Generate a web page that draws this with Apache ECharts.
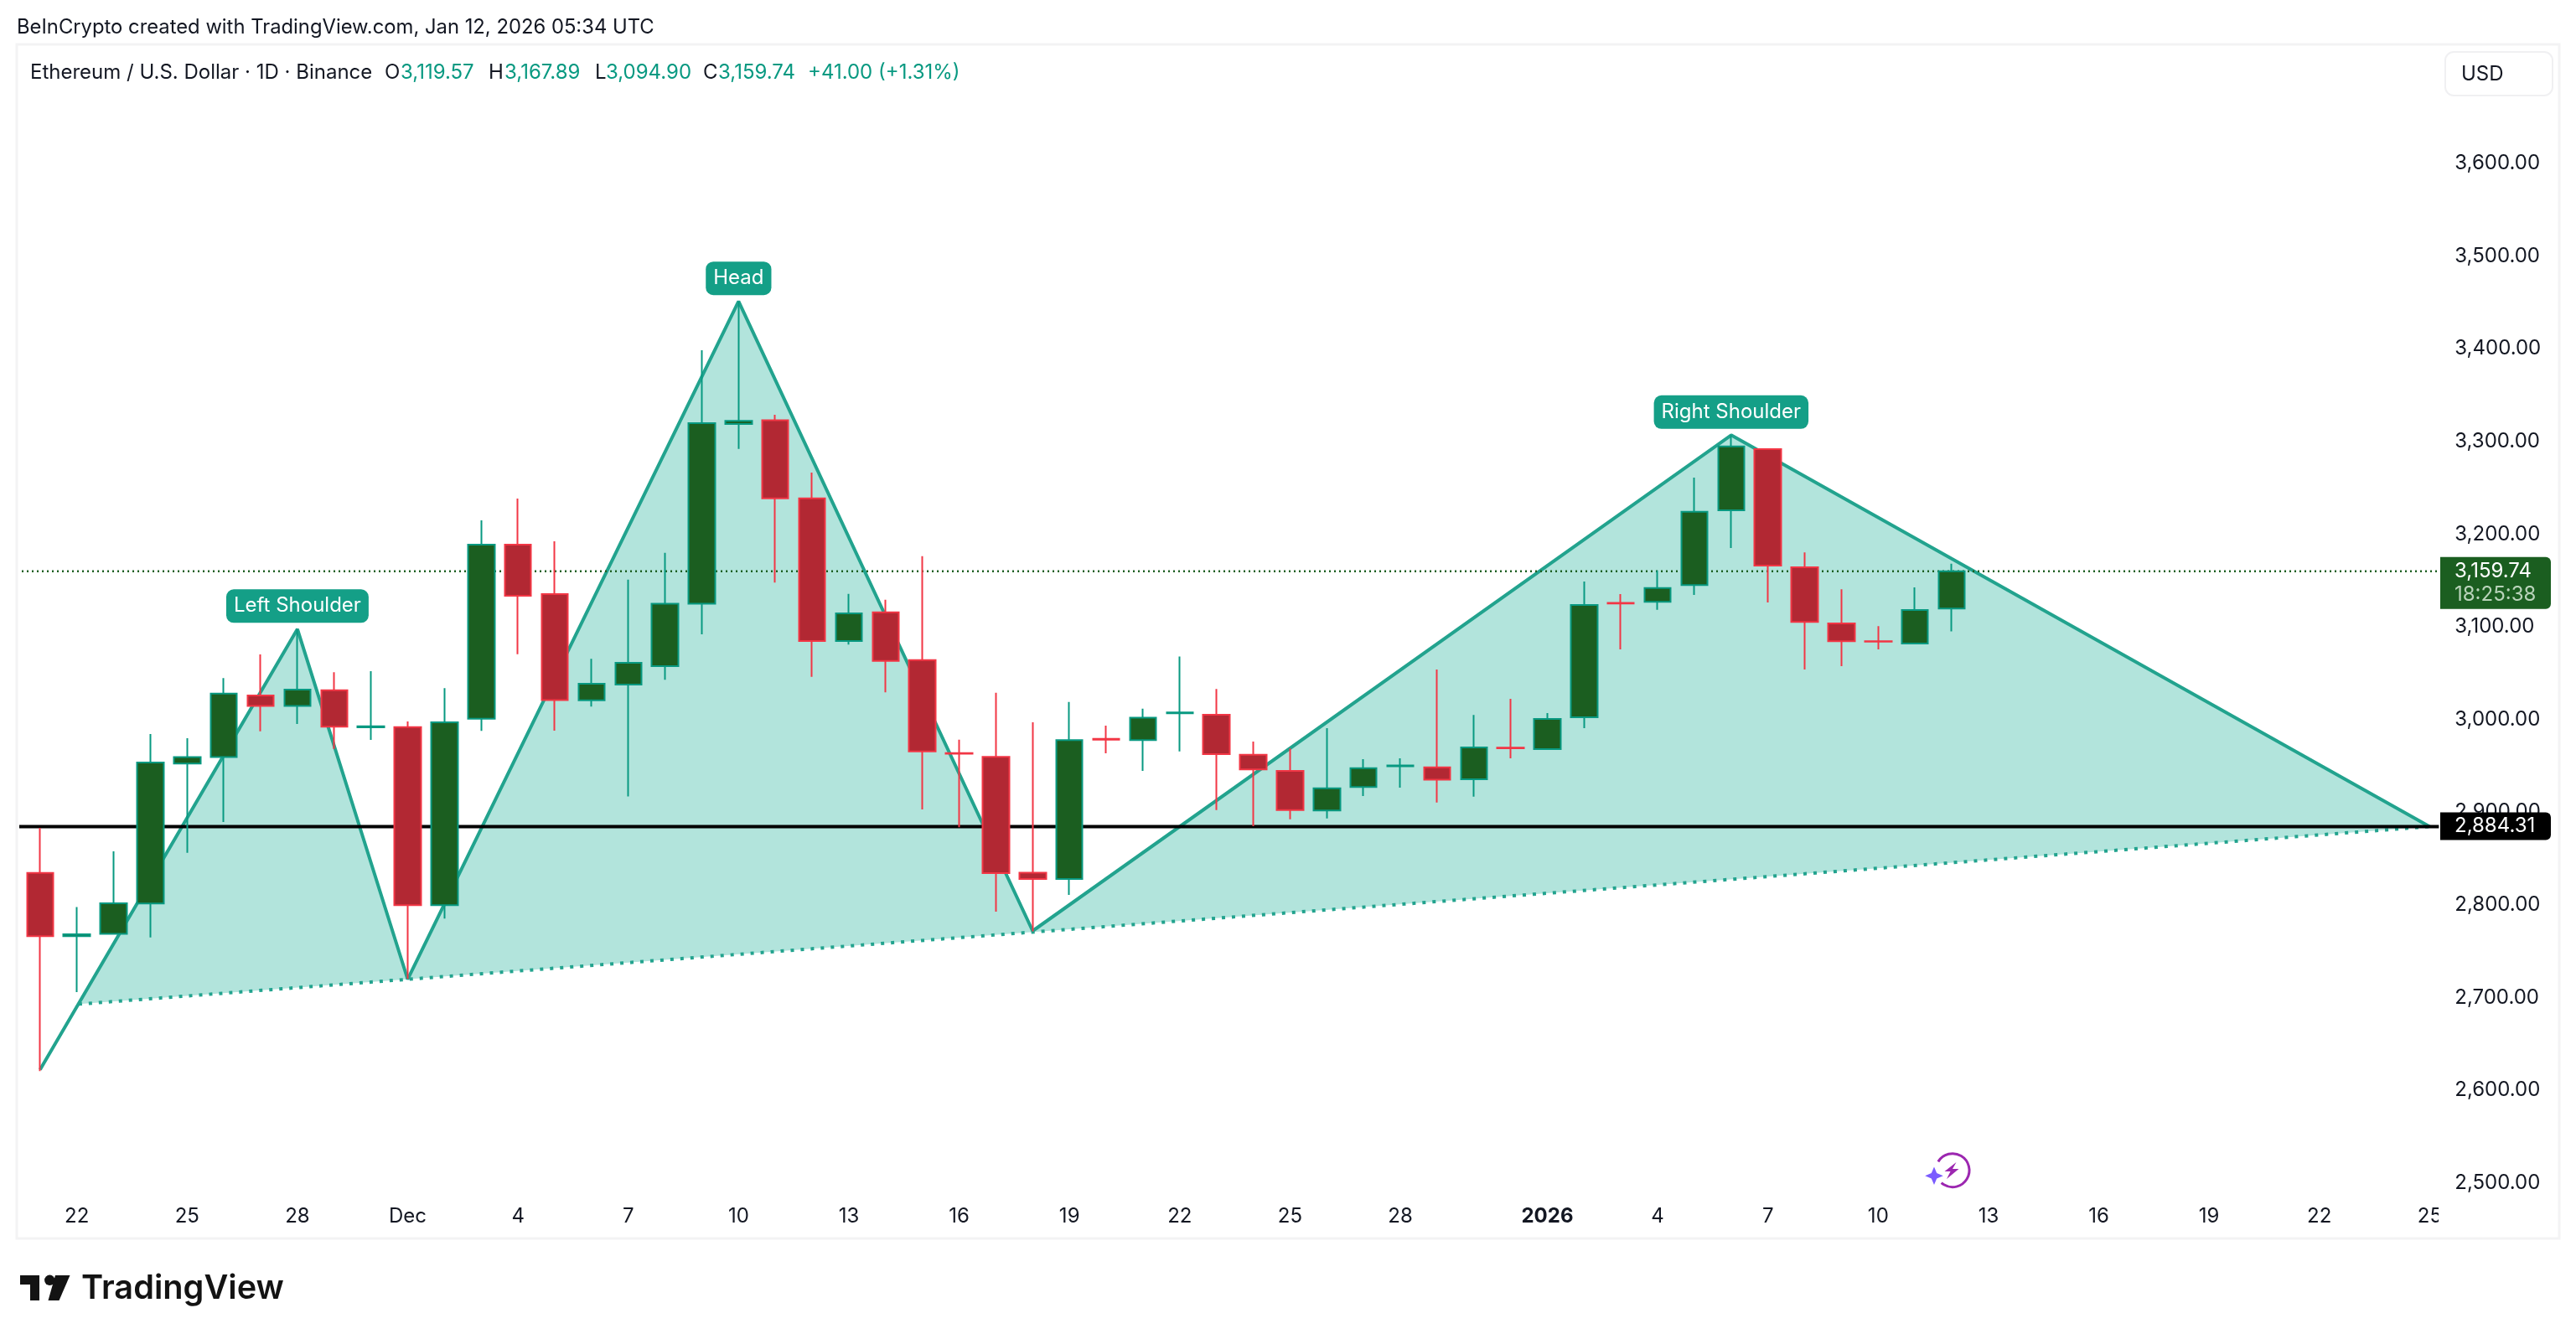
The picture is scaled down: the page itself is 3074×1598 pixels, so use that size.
<!DOCTYPE html>
<html><head><meta charset="utf-8">
<style>html,body{margin:0;padding:0;background:#fff}#c{width:3074px;height:1598px}</style>
<script src="https://cdn.jsdelivr.net/npm/echarts@6/dist/echarts.min.js"></script>
</head><body><div id="c"></div>
<script>
const categories=["Nov 21","Nov 22","Nov 23","Nov 24","Nov 25","Nov 26","Nov 27","Nov 28","Nov 29","Nov 30","Dec 1","Dec 2","Dec 3","Dec 4","Dec 5","Dec 6","Dec 7","Dec 8","Dec 9","Dec 10","Dec 11","Dec 12","Dec 13","Dec 14","Dec 15","Dec 16","Dec 17","Dec 18","Dec 19","Dec 20","Dec 21","Dec 22","Dec 23","Dec 24","Dec 25","Dec 26","Dec 27","Dec 28","Dec 29","Dec 30","Dec 31","Jan 1","Jan 2","Jan 3","Jan 4","Jan 5","Jan 6","Jan 7","Jan 8","Jan 9","Jan 10","Jan 11","Jan 12","Jan 13","Jan 14","Jan 15","Jan 16","Jan 17","Jan 18","Jan 19","Jan 20","Jan 21","Jan 22","Jan 23","Jan 24","Jan 25"];
const tickIndex=[1,4,7,10,13,16,19,22,25,28,31,34,37,41,44,47,50,53,56,59,62,65];
const tickText=["22","25","28","Dec","4","7","10","13","16","19","22","25","28","2026","4","7","10","13","16","19","22","25"];
const opens=[2834.2,2766,2768.6,2801.2,2952.3,2959.4,3025.8,3014.5,3031.4,2991.5,2991.7,2799.4,3000.6,3188.5,3135.2,3020.5,3037.5,3057.5,3124.7,3318.8,3322.7,3238.4,3084.5,3115.4,3063.9,2963.6,2959.5,2834.5,2827.7,2979,2977.7,3006.6,3005,2961.9,2944.4,2901.6,2926.9,2949.4,2948.3,2935.3,2969.4,2967.9,3002.2,3125.6,3126.8,3144.9,3225.6,3291.6,3164.1,3103.6,3084.3,3081.9,3119.57];
const closes=[2766,2768,2801.6,2953.5,2959.4,3027.7,3014.5,3032.2,2992.1,2992.5,2799.4,2996.9,3188.5,3133.4,3020.9,3038.5,3061,3124.7,3319.7,3322.1,3238.4,3084.5,3114.4,3063,2965.4,2963,2834,2827.7,2977.7,2978,3001.7,3007.4,2962.5,2945.9,2902.2,2925.7,2947.4,2950.2,2935,2969.7,2968.8,3000.4,3123.4,3124.9,3141.8,3224.1,3294.6,3166,3105.1,3084.3,3083.8,3118,3159.74];
const lows=[2620.5,2705.6,2767.8,2764.8,2856,2889.3,2987.2,2995.1,2968.1,2977.8,2719.9,2785.1,2987.6,3070.4,2987.9,3013.9,2916.9,3042.8,3091.8,3291.8,3147.7,3045.8,3080.6,3029.1,2902.7,2883.5,2792.4,2771.3,2810.5,2963.4,2944.3,2965.5,2902.2,2884.7,2892.2,2893.1,2917.3,2926.3,2910.3,2916.6,2958,2967.9,2990.5,3075.5,3118.3,3134.3,3185,3126.2,3053.8,3057.4,3075.5,3081.9,3094.9];
const highs=[2883,2797.5,2857.5,2984.2,2979.7,3044.5,3070,3097.4,3050.9,3052,2997.7,3033.7,3214.7,3238.3,3192.1,3065.4,3150.7,3179.6,3398.2,3451.1,3328.6,3266.3,3135.5,3129.1,3176.1,2978.1,3028.6,2996.8,3018.8,2993.3,3011.5,3067.9,3032.7,2976,2968.5,2990.5,2957,2958,3053.8,3004.7,3022.1,3006.8,3148.7,3135.2,3160.8,3260.9,3306.7,3292.5,3180.1,3140.3,3100.6,3142.4,3167.89];
const patternX=[0,7,10,19,27,46,65];
const patternV=[2622,3097.4,2719.5,3451,2771.7,3306.7,2884.31];
const baseX=[1.05,65];
const baseV=[2692.7,2884.31];
const patternNames=["Left Shoulder","Head","Right Shoulder"];
const patternNameX=[7,19,46];
const patternNameV=[3097.4,3451,3306.7];
const lastPrice=3159.74, lastPriceText="3,159.74", countdown="18:25:38";
const levelPrice=2884.31, levelText="2,884.31";
const lineSpanX=[-0.634,65.25];

const F='Inter, sans-serif', TXT='#131722', TEAL='#22a38e';
const zip2=(a,b)=>a.map((x,i)=>[x,b[i]]);
const tx=(x,y,t,fill,font,extra)=>({type:'text',z:50,style:Object.assign({x,y,text:t,fill:fill||TXT,font:font||('24px '+F),textVerticalAlign:'middle',verticalAlign:'middle'},extra||{})});
const UP='#089981';
const graphics=[
 {type:'rect',z:1,silent:true,shape:{x:20,y:53,width:3034,height:1425},style:{fill:'none',stroke:'#f3f3f4',lineWidth:3}},
 {type:'rect',z:40,shape:{x:2910,y:1430,width:142,height:46},style:{fill:'#fff'}},
 {type:'rect',z:41,shape:{x:2918,y:62,width:128,height:52,r:10},style:{fill:'#fff',stroke:'#f0f0f2',lineWidth:2}},
 tx(2937,88.5,'USD'),
 tx(20,32.5,'BeInCrypto created with TradingView.com, Jan 12, 2026 05:34 UTC',TXT,'23.8px '+F),
 tx(36,87,'Ethereum / U.S. Dollar · 1D · Binance'),
 tx(459,87,'O'),tx(478,87,'3,119.57',UP),
 tx(583,87,'H'),tx(602,87,'3,167.89',UP),
 tx(710,87,'L'),tx(723,87,'3,094.90',UP),
 tx(839,87,'C'),tx(857,87,'3,159.74',UP),
 tx(964,87,'+41.00 (+1.31%)',UP),
 {type:'polygon',z:50,shape:{points:[[24,1522],[47,1522],[47,1552],[36,1552],[36,1533],[24,1533]]},style:{fill:'#131313'}},
 {type:'circle',z:50,shape:{cx:59.3,cy:1527.8,r:6.2},style:{fill:'#131313'}},
 {type:'polygon',z:50,shape:{points:[[66,1522],[83.5,1522],[70.5,1552],[57.5,1552]]},style:{fill:'#131313'}},
 tx(97,1538,'TradingView','#131313','600 39.7px '+F),
 {type:'arc',z:50,shape:{cx:2330,cy:1396.7,r:20,startAngle:-2.6,endAngle:2.3,clockwise:true},style:{fill:'none',stroke:'#9c27b0',lineWidth:3}},
 {type:'polygon',z:50,shape:{points:[[2334.5,1387],[2320.5,1398],[2327.5,1398],[2323,1407],[2337.5,1395],[2330,1395]]},style:{fill:'#9c27b0'}},
 {type:'polygon',z:50,shape:{points:[[2308,1392.5],[2311.2,1400.1],[2318.8,1403.3],[2311.2,1406.5],[2308,1414],[2304.8,1406.5],[2297.2,1403.3],[2304.8,1400.1]]},style:{fill:'#7b5cff'}}
];
const priceTag=(params,api)=>{
 const y=api.coord([0,api.value(1)])[1], i=params.dataIndex, c=params.coordSys, x=c.x+c.width-9.3;
 if(i===0){return {type:'group',children:[
  {type:'rect',shape:{x,y:y-17,width:132,height:62,r:[0,6,6,0]},style:{fill:'#1b5e20'}},
  {type:'text',style:{x:x+17,y:y+0,text:lastPriceText,fill:'#fff',font:'24px '+F,textVerticalAlign:'middle',verticalAlign:'middle'}},
  {type:'text',style:{x:x+17,y:y+28,text:countdown,fill:'#b9d3ba',font:'24px '+F,textVerticalAlign:'middle',verticalAlign:'middle'}}]};}
 return {type:'group',children:[
  {type:'rect',shape:{x,y:y-17,width:132,height:33,r:[0,6,6,0]},style:{fill:'#000'}},
  {type:'text',style:{x:x+17,y:y-0.5,text:levelText,fill:'#fff',font:'24px '+F,textVerticalAlign:'middle',verticalAlign:'middle'}}]};
};
const chart=echarts.init(document.getElementById('c'),null,{renderer:'canvas'});
chart.setOption({
 animation:false,backgroundColor:'#fff',
 grid:{left:25.9,top:84.3,width:2895.4,height:1327.2,containLabel:false},
 xAxis:[
  {type:'category',data:categories,boundaryGap:true,axisLine:{show:false},axisTick:{show:false},splitLine:{show:false},
   axisLabel:{margin:28,fontFamily:F,fontSize:24,color:TXT,
    interval:(i)=>tickIndex.includes(i),
    formatter:(v,i)=>{const k=tickIndex.indexOf(i);if(k<0)return '';return tickText[k]==='2026'?'{b|2026}':tickText[k];},
    rich:{b:{fontFamily:F,fontSize:24,fontWeight:700,color:TXT}}}},
  {type:'value',show:false,min:-0.5,max:65.5,splitLine:{show:false}}
 ],
 yAxis:{type:'value',position:'right',min:2500,max:3700,interval:100,scale:true,
  axisLine:{show:false},axisTick:{show:false},splitLine:{show:false},
  axisLabel:{showMaxLabel:false,margin:8,fontFamily:F,fontSize:24,color:TXT,
   formatter:v=>v.toLocaleString('en-US',{minimumFractionDigits:2,maximumFractionDigits:2})}},
 graphic:graphics,
 series:[
  {type:'custom',name:'Pattern fill',xAxisIndex:1,coordinateSystem:'cartesian2d',z:1,silent:true,data:[[0,patternV[0]]],
   renderItem:(p,api)=>{
    const pts=[[baseX[0],baseV[0]]];
    patternX.slice(1).forEach((x,i)=>pts.push([x,patternV[i+1]]));
    return {type:'polygon',shape:{points:pts.map(q=>api.coord(q))},style:{fill:'#b2e4dc'}};
   }},
  {type:'line',name:'Pattern',xAxisIndex:1,z:2,symbol:'none',silent:true,data:zip2(patternX,patternV),lineStyle:{color:TEAL,width:4}},
  {type:'line',name:'Pattern base',xAxisIndex:1,z:2,symbol:'none',silent:true,data:zip2(baseX,baseV),lineStyle:{color:TEAL,width:4,type:[4,8]}},
  {type:'line',name:'Last price',xAxisIndex:1,z:3,symbol:'none',silent:true,clip:false,data:lineSpanX.map(x=>[x,lastPrice]),lineStyle:{color:'#1b5e20',width:2.5,type:[2,4]}},
  {type:'line',name:'Level',xAxisIndex:1,z:3,symbol:'none',silent:true,clip:false,data:lineSpanX.map(x=>[x,levelPrice]),lineStyle:{color:'#000',width:4}},
  {type:'candlestick',name:'ETHUSD',z:5,barWidth:32,
   data:opens.map((o,i)=>[o,closes[i],lows[i],highs[i]]),
   itemStyle:{color:'#1b5e20',color0:'#b22833',borderColor:'#089981',borderColor0:'#f23645',borderWidth:2}},
  {type:'scatter',name:'Pattern names',xAxisIndex:1,z:8,symbolSize:1,silent:true,
   itemStyle:{color:'transparent',opacity:1},
   data:patternNames.map((n,i)=>({value:[patternNameX[i],patternNameV[i]],name:n})),
   label:{show:true,opacity:1,position:'top',distance:7,formatter:'{b}',fontFamily:F,fontSize:24,lineHeight:24,color:'#fff',backgroundColor:'#149f87',borderRadius:9,padding:[8,9]}},
  {type:'custom',name:'Price tags',xAxisIndex:1,z:20,silent:true,data:[[65,lastPrice],[65,levelPrice]],renderItem:priceTag}
 ]
});
</script></body></html>
